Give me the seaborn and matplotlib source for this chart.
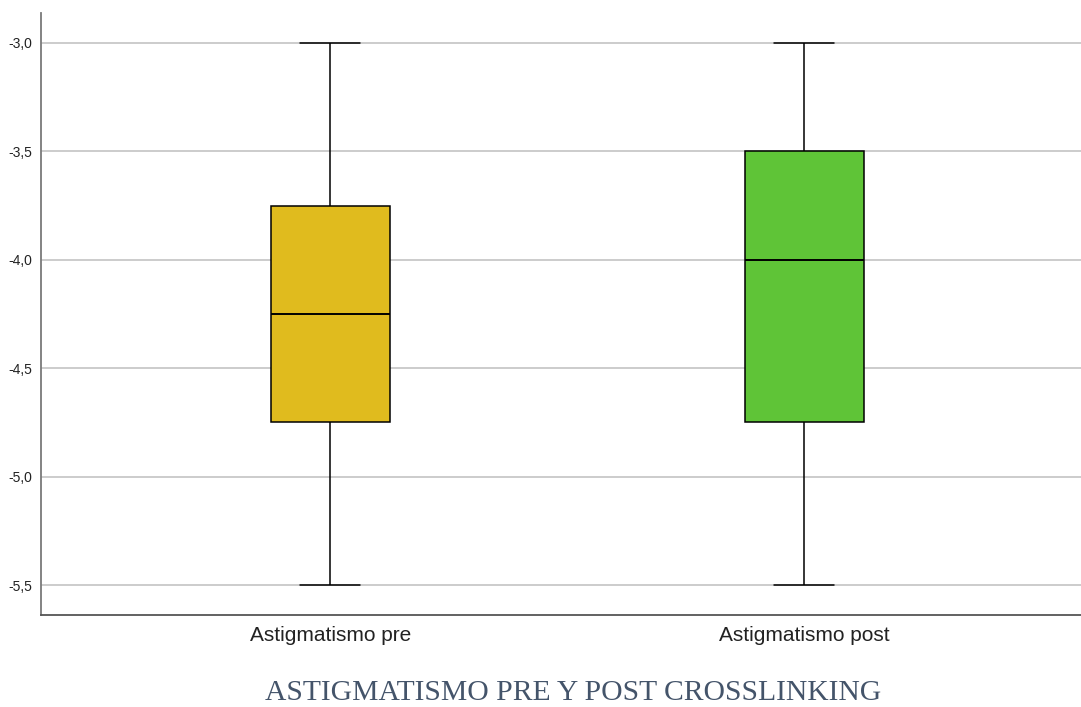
import numpy as np
import pandas as pd
import matplotlib
matplotlib.use("Agg")
import matplotlib.pyplot as plt
import seaborn as sns

# Astigmatism (diopters) before and after corneal crosslinking:
# minimum, Q1, median, Q3, maximum of each group
categories = ["Astigmatismo pre", "Astigmatismo post"]
pre_values = [-5.5, -4.75, -4.25, -3.75, -3.0]
post_values = [-5.5, -4.75, -4.0, -3.5, -3.0]
box_colors = ["#E0BB1E", "#5FC437"]
tick_values = [-3.0, -3.5, -4.0, -4.5, -5.0, -5.5]
tick_labels = ["-3,0", "-3,5", "-4,0", "-4,5", "-5,0", "-5,5"]
title = "ASTIGMATISMO PRE Y POST CROSSLINKING"

df = pd.DataFrame({
    "grupo": [categories[0]] * len(pre_values) + [categories[1]] * len(post_values),
    "valor": pre_values + post_values,
})

sns.set_theme(style="white")
plt.rcParams["font.family"] = ["Liberation Sans", "DejaVu Sans"]

fig = plt.figure(figsize=(10.81, 7.07), dpi=100)
ax = fig.add_axes([0.0379, 0.1301, 0.9621, 0.8515])

sns.boxplot(
    data=df, x="grupo", y="valor", hue="grupo", order=categories,
    palette=box_colors, saturation=1, legend=False, width=0.251, whis=1.5,
    linecolor="black", linewidth=1.1, showfliers=False,
    medianprops={"color": "black", "linewidth": 1.4},
    ax=ax,
)

for y in tick_values:
    ax.axhline(y, color="#c8c8c8", linewidth=1.3, zorder=0)

ax.set_xlim(-0.610, 1.584)
ax.set_ylim(-5.638, -2.862)
ax.set_yticks(tick_values)
ax.set_yticklabels(tick_labels, fontsize=10, color="#222222")
ax.tick_params(axis="x", labelsize=15, colors="#222222", length=0, pad=8)
ax.tick_params(axis="y", length=0, pad=6)
ax.set_xlabel("")
ax.set_ylabel("")

for side in ["top", "right"]:
    ax.spines[side].set_visible(False)
ax.spines["left"].set_color("#7a7a7a")
ax.spines["left"].set_linewidth(1.3)
ax.spines["bottom"].set_color("#555555")
ax.spines["bottom"].set_linewidth(1.3)

fig.text(573 / 1081, 1 - 693 / 707, title, ha="center", va="center",
         fontsize=21.3, color="#44546A", family=["Liberation Serif", "DejaVu Serif"])

fig.savefig("out.png", dpi=100)
